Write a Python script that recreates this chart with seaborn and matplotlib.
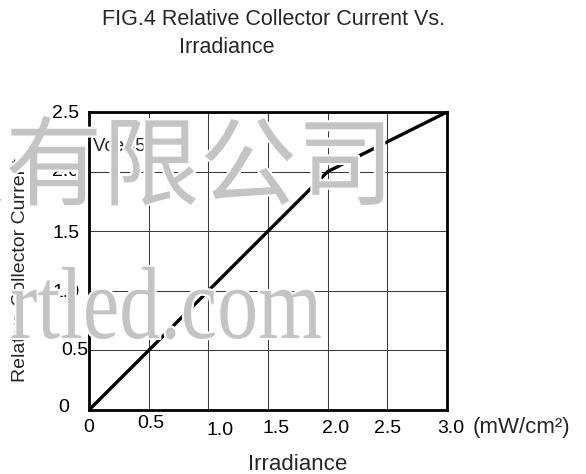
import matplotlib
matplotlib.use("Agg")
import matplotlib.pyplot as plt
import matplotlib.patheffects as pe
from matplotlib.textpath import TextPath
from matplotlib.patches import PathPatch
from matplotlib.font_manager import FontProperties
from matplotlib.transforms import Affine2D, IdentityTransform, ScaledTranslation
import seaborn as sns
import pandas as pd

# curve
irradiance = [0.0, 2.0, 3.0]
relative_current = [0.0, 2.0, 2.5]

x_ticks = [0, 0.5, 1.0, 1.5, 2.0, 2.5, 3.0]
x_tick_labels = ["0", "0.5", "1.0", "1.5", "2.0", "2.5", "3.0"]
y_ticks = [0, 0.5, 1.0, 1.5, 2.0, 2.5]
y_tick_labels = ["0", "0.5", "1.0", "1.5", "2.0", "2.5"]

# the scanned labels sit a little off their grid lines (pixels, right / up)
x_label_nudge = [(0, 1), (2, 5), (12, -2), (8, 0), (8, 0), (0, 0), (4, 0)]
y_label_nudge = [(-10, 5), (9, 2), (0, 0), (0, 0), (0, 2), (0, 1)]

sns.set_style("white")
plt.rcParams["font.family"] = ["Liberation Sans", "DejaVu Sans"]

W, H = 586, 474
fig = plt.figure(figsize=(W / 100, H / 100), dpi=100)
ax = fig.add_axes([89 / W, 1 - 410 / H, 358 / W, 298 / H])

df = pd.DataFrame({"irradiance": irradiance, "current": relative_current})
sns.lineplot(data=df, x="irradiance", y="current", ax=ax, color="black",
             linewidth=2.4, sort=False, zorder=3)

ax.set_xlim(0, 3.0)
ax.set_ylim(0, 2.5)
ax.set_xticks(x_ticks)
ax.set_xticklabels(x_tick_labels)
ax.set_yticks(y_ticks)
ax.set_yticklabels(y_tick_labels)
ax.tick_params(length=0, labelsize=14, colors="black")
ax.tick_params(axis="x", pad=7)
ax.tick_params(axis="y", pad=7)
ax.grid(True, color="#3a3a3a", linewidth=0.75)
ax.set_axisbelow(True)
for spine in ax.spines.values():
    spine.set_color("black")
    spine.set_linewidth(2.0)
ax.set_xlabel("")
ax.set_ylabel("")

for lab, (dx, dy) in zip(ax.get_xticklabels(), x_label_nudge):
    lab.set_transform(lab.get_transform() + ScaledTranslation(dx / 100, dy / 100, fig.dpi_scale_trans))
for lab, (dx, dy) in zip(ax.get_yticklabels(), y_label_nudge):
    lab.set_transform(lab.get_transform() + ScaledTranslation(dx / 100, dy / 100, fig.dpi_scale_trans))

ax.text(0.03, 2.21, "Vce=5V", fontsize=13.5, ha="left", va="center")

# titles and labels
fig.text(102 / W, 1 - 25 / H, "FIG.4 Relative Collector Current Vs.",
         fontsize=15.5, ha="left", va="baseline")
fig.text(179 / W, 1 - 53 / H, "Irradiance", fontsize=15.5, ha="left", va="baseline")
fig.text(298 / W, 1 - 470 / H, "Irradiance", fontsize=16, ha="center", va="baseline")
fig.text(473 / W, 1 - 433 / H, "(mW/cm²)", fontsize=16, ha="left", va="baseline")
fig.text(21 / W, 1 - 270 / H, "Relative Collector Current", fontsize=14,
         rotation=90, ha="center", va="center")

# scanned watermark on top of the chart
mark_grey = "#c4c4c4"
halo = [pe.withStroke(linewidth=3, foreground="white")]
fig.text(-92 / W, 1 - 170 / H, "技有限公司", fontsize=70, color=mark_grey,
         family=["Noto Sans CJK SC"], ha="left", va="center",
         path_effects=halo, zorder=10)

# the latin part of the watermark is a tall, narrow serif
serif_path = TextPath((0, 0), "rtled.com", size=82,
                      prop=FontProperties(family="Liberation Serif"))
stretch = Affine2D().scale(1.0, 1.25).translate(10, H - 338)
mark = PathPatch(serif_path, facecolor=mark_grey, edgecolor="none",
                 transform=stretch + IdentityTransform(), zorder=10,
                 path_effects=[pe.Stroke(linewidth=3, foreground="white"), pe.Normal()])
fig.add_artist(mark)

fig.savefig("out.png", dpi=100)
